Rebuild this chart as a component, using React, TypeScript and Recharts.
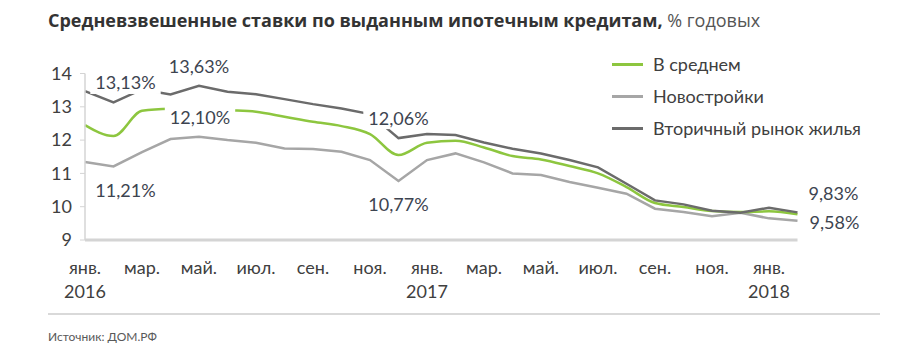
import React from 'react';
import { LineChart, Line, XAxis, YAxis, LabelList } from 'recharts';

const months = [
  'янв.', 'фев.', 'мар.', 'апр.', 'май.', 'июн.', 'июл.', 'авг.', 'сен.', 'окт.', 'ноя.', 'дек.',
  'янв.', 'фев.', 'мар.', 'апр.', 'май.', 'июн.', 'июл.', 'авг.', 'сен.', 'окт.', 'ноя.', 'дек.',
  'янв.', 'фев.',
];
const years = [
  '2016', '', '', '', '', '', '', '', '', '', '', '',
  '2017', '', '', '', '', '', '', '', '', '', '', '',
  '2018', '',
];
const avgValues = [
  12.45, 12.12, 12.88, 12.94, 12.95, 12.9, 12.85, 12.7, 12.55, 12.42, 12.18, 11.55,
  11.92, 11.98, 11.78, 11.52, 11.42, 11.22, 11.0, 10.59, 10.11, 9.99, 9.87, 9.84,
  9.86, 9.77,
];
const newValues = [
  11.34, 11.21, 11.64, 12.03, 12.1, 12.0, 11.92, 11.75, 11.73, 11.65, 11.4, 10.77,
  11.4, 11.6, 11.33, 11.0, 10.95, 10.74, 10.57, 10.39, 9.94, 9.84, 9.71, 9.82,
  9.65, 9.58,
];
const secValues = [
  13.47, 13.13, 13.52, 13.37, 13.63, 13.45, 13.38, 13.23, 13.08, 12.95, 12.78, 12.06,
  12.18, 12.15, 11.93, 11.74, 11.6, 11.4, 11.18, 10.69, 10.19, 10.07, 9.88, 9.82,
  9.97, 9.83,
];
const yTicks = [9, 10, 11, 12, 13, 14];
const seriesNames = ['В среднем', 'Новостройки', 'Вторичный рынок жилья'];

const data = months.map((m, i) => ({
  key: `${m} ${i}`,
  avg: avgValues[i],
  nw: newValues[i],
  sec: secValues[i],
}));

const FONT = 'Lato, "Open Sans", sans-serif';
const TITLE_FONT = '"Open Sans", Lato, sans-serif';
const TEXT = '#404040';
const GREEN = '#8dc63f';
const LIGHT = '#a6a6a6';
const DARK = '#6b6b6b';

const secLabels: Record<number, { dx: number; dy: number }> = {
  1: { dx: 12, dy: -19.5 },
  4: { dx: 0, dy: -19 },
  11: { dx: 0, dy: -20 },
  25: { dx: 36, dy: -19 },
};
const newLabels: Record<number, { dx: number; dy: number }> = {
  1: { dx: 12, dy: 24 },
  4: { dx: 1, dy: -19 },
  11: { dx: 0, dy: 23 },
  25: { dx: 37, dy: 2 },
};

const makeLabel = (spec: Record<number, { dx: number; dy: number }>) => (props: any) => {
  const { x, y, value, index } = props;
  const s = spec[index];
  if (!s || x == null || y == null) return <g />;
  const text = Number(value).toFixed(2).replace('.', ',') + '%';
  const w = text.length * 10.4 + 8;
  const cx = Number(x) + s.dx;
  const cy = Number(y) + s.dy;
  return (
    <g>
      <rect x={cx - w / 2} y={cy - 11} width={w} height={22} fill="#fff" />
      <text x={cx} y={cy + 6.5} textAnchor="middle" fontSize={18} fontFamily={FONT} fill="#3d4450">
        {text}
      </text>
    </g>
  );
};

const XTick = (props: any) => {
  const { x, y, payload } = props;
  const i = payload?.index ?? 0;
  if (i % 2 !== 0) return <g />;
  return (
    <text x={x} y={y} textAnchor="middle" fontSize={18} fontFamily={FONT} fill={TEXT}>
      <tspan x={x} dy={26}>{months[i]}</tspan>
      {years[i] ? <tspan x={x} dy={24}>{years[i]}</tspan> : null}
    </text>
  );
};

const legendItems = [
  { name: seriesNames[0], color: GREEN, top: 64 },
  { name: seriesNames[1], color: LIGHT, top: 96 },
  { name: seriesNames[2], color: DARK, top: 128 },
];

export default function App() {
  return (
    <div style={{ position: 'absolute', left: 0, top: 0, width: 900, height: 351, background: '#fff', fontFamily: FONT }}>
      <div style={{ position: 'absolute', left: 48, top: 7, fontSize: 18, color: '#333', whiteSpace: 'nowrap', lineHeight: '26px', fontFamily: TITLE_FONT }}>
        <span style={{ fontWeight: 700 }}>Средневзвешенные ставки по выданным ипотечным кредитам,</span>
        <span style={{ color: '#555' }}> % годовых</span>
      </div>
      <div style={{ position: 'absolute', left: 0, top: 0 }}>
        <LineChart width={900} height={351} data={data} margin={{ top: 73.5, right: 102.5, bottom: 51, left: 25 }}>
          <XAxis
            dataKey="key"
            interval={0}
            tickLine={false}
            axisLine={{ stroke: '#d4d4d4', strokeWidth: 3 }}
            tick={<XTick />}
            height={60}
          />
          <YAxis
            domain={[9, 14]}
            ticks={yTicks}
            width={60}
            tickSize={5}
            tickMargin={8}
            tickLine={{ stroke: '#d4d4d4' }}
            axisLine={{ stroke: '#d4d4d4', strokeWidth: 1.5 }}
            tick={{ fontSize: 18, fontFamily: FONT, fill: TEXT }}
            allowDataOverflow
          />
          <Line type="linear" dataKey="nw" stroke={LIGHT} strokeWidth={2.5} dot={false} isAnimationActive={false} />
          <Line type="monotone" dataKey="avg" stroke={GREEN} strokeWidth={2.5} dot={false} isAnimationActive={false} />
          <Line type="linear" dataKey="sec" stroke={DARK} strokeWidth={2.5} dot={false} isAnimationActive={false} />
          <Line type="linear" dataKey="nw" stroke="none" dot={false} activeDot={false} legendType="none" isAnimationActive={false}>
            <LabelList dataKey="nw" content={makeLabel(newLabels)} />
          </Line>
          <Line type="linear" dataKey="sec" stroke="none" dot={false} activeDot={false} legendType="none" isAnimationActive={false}>
            <LabelList dataKey="sec" content={makeLabel(secLabels)} />
          </Line>
        </LineChart>
      </div>
      {legendItems.map((it) => (
        <div key={it.name} style={{ position: 'absolute', left: 612, top: it.top - 12, height: 24, display: 'flex', alignItems: 'center' }}>
          <div style={{ width: 31, height: 3, background: it.color }} />
          <div style={{ marginLeft: 10, fontSize: 18, color: TEXT, whiteSpace: 'nowrap' }}>{it.name}</div>
        </div>
      ))}
      <div style={{ position: 'absolute', left: 48, top: 313, width: 832, height: 2, background: '#d9d9d9' }} />
      <div style={{ position: 'absolute', left: 48, top: 329, fontSize: 12, color: '#595959', whiteSpace: 'nowrap', lineHeight: '16px' }}>
        Источник: ДОМ.РФ
      </div>
    </div>
  );
}
